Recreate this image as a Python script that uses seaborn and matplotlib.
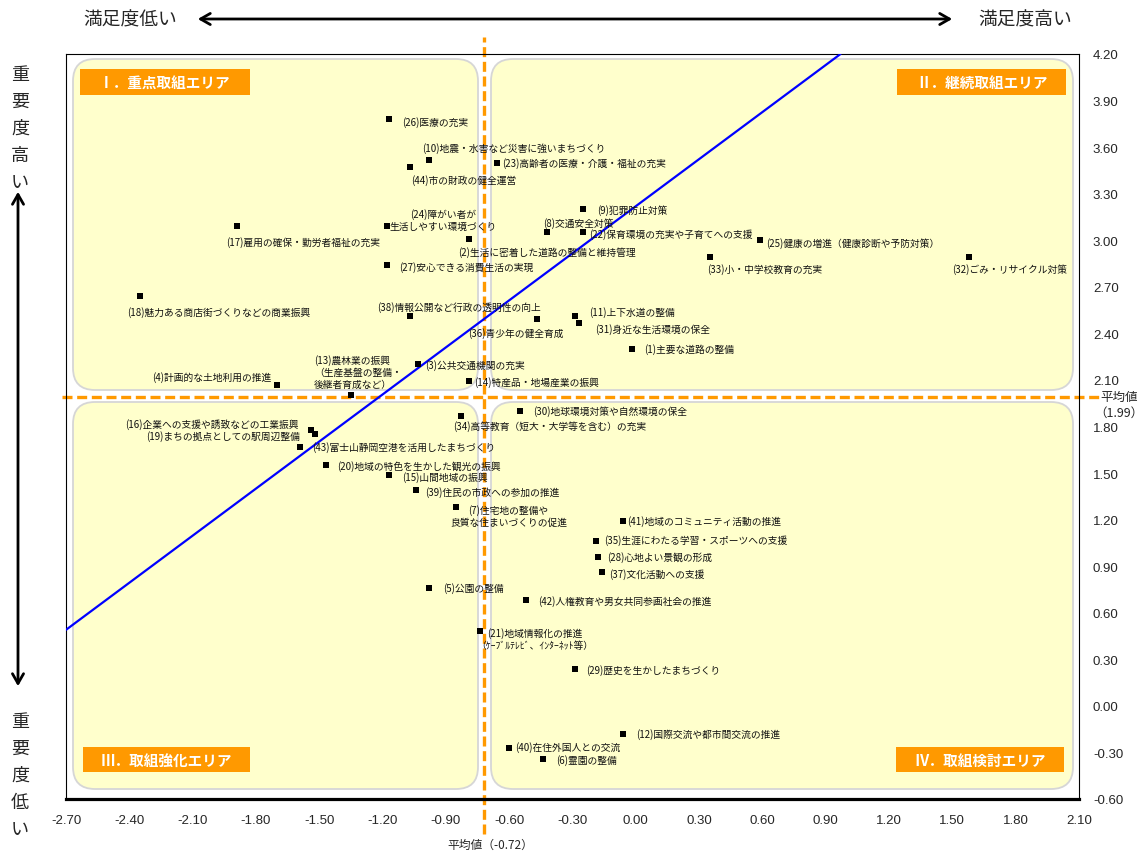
import numpy as np
import pandas as pd
import matplotlib.pyplot as plt
import seaborn as sns
from matplotlib.patches import FancyBboxPatch, Rectangle

#=========================================================
#----- Data --------
#=========================================================
item_no = list(range(1, 45))
item_name = [
    "主要な道路の整備",
    "生活に密着した道路の整備と維持管理",
    "公共交通機関の充実",
    "計画的な土地利用の推進",
    "公園の整備",
    "霊園の整備",
    "住宅地の整備や\n良質な住まいづくりの促進",
    "交通安全対策",
    "犯罪防止対策",
    "地震・水害など災害に強いまちづくり",
    "上下水道の整備",
    "国際交流や都市間交流の推進",
    "農林業の振興\n（生産基盤の整備・\n後継者育成など）",
    "特産品・地場産業の振興",
    "山間地域の振興",
    "企業への支援や誘致などの工業振興",
    "雇用の確保・勤労者福祉の充実",
    "魅力ある商店街づくりなどの商業振興",
    "まちの拠点としての駅周辺整備",
    "地域の特色を生かした観光の振興",
    "地域情報化の推進\n（ｹｰﾌﾞﾙﾃﾚﾋﾞ、ｲﾝﾀｰﾈｯﾄ等）",
    "保育環境の充実や子育てへの支援",
    "高齢者の医療・介護・福祉の充実",
    "障がい者が\n生活しやすい環境づくり",
    "健康の増進（健康診断や予防対策）",
    "医療の充実",
    "安心できる消費生活の実現",
    "心地よい景観の形成",
    "歴史を生かしたまちづくり",
    "地球環境対策や自然環境の保全",
    "身近な生活環境の保全",
    "ごみ・リサイクル対策",
    "小・中学校教育の充実",
    "高等教育（短大・大学等を含む）の充実",
    "生涯にわたる学習・スポーツへの支援",
    "青少年の健全育成",
    "文化活動への支援",
    "情報公開など行政の透明性の向上",
    "住民の市政への参加の推進",
    "在住外国人との交流",
    "地域のコミュニティ活動の推進",
    "人権教育や男女共同参画社会の推進",
    "富士山静岡空港を活用したまちづくり",
    "市の財政の健全運営",
]
# satisfaction (x) / importance (y)
satisfaction = [-0.02, -0.79, -1.03, -1.70, -0.98, -0.44, -0.85, -0.42, -0.25, -0.98,
                -0.29, -0.06, -1.35, -0.79, -1.17, -1.54, -1.89, -2.35, -1.52, -1.47,
                -0.74, -0.25, -0.66, -1.18, 0.59, -1.17, -1.18, -0.18, -0.29, -0.55,
                -0.27, 1.58, 0.35, -0.83, -0.19, -0.47, -0.16, -1.07, -1.04, -0.60,
                -0.06, -0.52, -1.59, -1.07]
importance = [2.30, 3.01, 2.20, 2.07, 0.76, -0.34, 1.28, 3.05, 3.20, 3.52,
              2.51, -0.18, 2.00, 2.09, 1.49, 1.78, 3.09, 2.64, 1.75, 1.55,
              0.48, 3.05, 3.50, 3.09, 3.00, 3.78, 2.84, 0.96, 0.24, 1.90,
              2.47, 2.89, 2.89, 1.87, 1.06, 2.49, 0.86, 2.51, 1.39, -0.27,
              1.19, 0.68, 1.67, 3.47]

mean_x = -0.72
mean_y = 1.99
trend_x = [-2.70, 0.97]
trend_y = [0.49, 4.20]

area_names = ["Ⅰ．重点取組エリア", "Ⅱ．継続取組エリア", "Ⅲ．取組強化エリア", "Ⅳ．取組検討エリア"]

df = pd.DataFrame({"no": item_no, "name": item_name,
                   "satisfaction": satisfaction, "importance": importance})

# label placement: (dx, dy) in pixels from the marker (dy downwards), alignment
label_pos = {
    1: (13, 0, "left"), 2: (-11, 13, "left"), 3: (7, 0, "left"), 4: (-6, -8, "right"),
    5: (14, 0, "left"), 6: (13, 1, "left"), 7: (52, 8, "center"), 8: (-4, -10, "left"),
    9: (14, 0, "left"), 10: (-7, -12, "left"), 11: (15, -5, "left"), 12: (13, 0, "left"),
    13: (-37, -24, "left"), 14: (5, 0, "left"), 15: (13, 2, "left"), 16: (-12, -6, "right"),
    17: (66, 15, "center"), 18: (-13, 15, "left"), 19: (-15, 1, "right"), 20: (12, 0, "left"),
    21: (55, 7, "center"), 22: (6, 1, "left"), 23: (6, 0, "left"), 24: (56, -7, "center"),
    25: (6, 2, "left"), 26: (13, 2, "left"), 27: (12, 1, "left"), 28: (9, 0, "left"),
    29: (12, 1, "left"), 30: (13, 0, "left"), 31: (16, 6, "left"), 32: (-17, 11, "left"),
    33: (-3, 11, "left"), 34: (-8, 10, "left"), 35: (8, -2, "left"), 36: (-68, 13, "left"),
    37: (7, 1, "left"), 38: (-33, -10, "left"), 39: (9, 1, "left"), 40: (6, -1, "left"),
    41: (4, -1, "left"), 42: (12, 0, "left"), 43: (12, 0, "left"), 44: (1, 12, "left"),
}

#=========================================================
#----- Figure setup --------
#=========================================================
sns.set_style("white")
plt.rcParams['font.family'] = ['Noto Sans CJK JP', 'DejaVu Sans']

W, H = 1145, 853
fig = plt.figure(figsize=(W / 100, H / 100), dpi=100)
ax = fig.add_axes([66 / W, 1 - 800 / H, (1079 - 66) / W, (800 - 55) / H])
ax.set_facecolor("white")

YELLOW = "#FFFFCC"
ORANGE = "#FF9900"


def fbox(x0, y0, x1, y1):
    # image pixel box -> figure fraction (left, bottom, width, height)
    return x0 / W, 1 - y1 / H, (x1 - x0) / W, (y1 - y0) / H


#---- quadrant backgrounds -----
quads = [(73, 60, 478, 391), (491, 60, 1073, 391), (73, 403, 478, 790), (491, 403, 1073, 790)]
for q in quads:
    l, b, w, h = fbox(*q)
    ax.add_patch(FancyBboxPatch((l, b), w, h,
                                boxstyle=f"round,pad=0,rounding_size={22 / W}",
                                mutation_aspect=W / H, transform=fig.transFigure,
                                facecolor=YELLOW, edgecolor="#D6D6D6", lw=1.3,
                                zorder=0.5, clip_on=False))

#---- area labels -----
area_boxes = [(80, 70, 250, 96), (897, 70, 1066, 96), (83, 748, 250, 773), (896, 748, 1064, 773)]
for name, bx in zip(area_names, area_boxes):
    l, b, w, h = fbox(*bx)
    ax.add_patch(Rectangle((l, b), w, h, transform=fig.transFigure,
                           facecolor=ORANGE, edgecolor="none", zorder=1, clip_on=False))
    ax.text(l + w / 2, b + h / 2, name, transform=fig.transFigure, ha="center", va="center",
            color="white", fontsize=10.5, fontweight="bold", zorder=2)

#---- mean lines -----
ax.axvline(mean_x, ymin=-0.047, ymax=1.023, color=ORANGE, lw=2.4,
           dashes=(3, 1.4), clip_on=False, zorder=2)
ax.axhline(mean_y, xmin=-0.004, xmax=1.021, color=ORANGE, lw=2.4,
           dashes=(3, 1.4), clip_on=False, zorder=2)

#---- trend line & points -----
sns.lineplot(x=trend_x, y=trend_y, color="#0000FF", lw=1.6, ax=ax, zorder=3)
sns.scatterplot(data=df, x="satisfaction", y="importance", marker="s", color="black",
                s=19, linewidth=0, ax=ax, zorder=4, legend=False)

for n, name, x, y in zip(df["no"], df["name"], df["satisfaction"], df["importance"]):
    dx, dy, ha = label_pos[n]
    ax.annotate(f"({n}){name}", xy=(x, y), xytext=(dx, -dy), textcoords="offset pixels",
                ha=ha, va="center", multialignment=ha, fontsize=7, linespacing=1.25,
                color="#111111", zorder=5)

#---- axes -----
ax.set_xlim(-2.7, 2.1)
ax.set_ylim(-0.6, 4.2)
xt = np.round(np.arange(-2.7, 2.101, 0.3), 2)
yt = np.round(np.arange(-0.6, 4.201, 0.3), 2)
ax.set_xticks(xt)
ax.set_xticklabels([f"{v + 0:.2f}" for v in xt])
ax.set_yticks(yt)
ax.set_yticklabels([f"{v + 0:.2f}" for v in yt])
ax.yaxis.tick_right()
ax.tick_params(axis="x", direction="in", length=4, width=1, color="black", pad=11,
               labelsize=9.5, labelfontfamily="Liberation Sans")
ax.tick_params(axis="y", length=0, pad=10, labelsize=9.5, labelfontfamily="Liberation Sans")
ax.set_xlabel("")
ax.set_ylabel("")
for side in ["left", "top", "right"]:
    ax.spines[side].set_visible(True)
    ax.spines[side].set_linewidth(0.8)
    ax.spines[side].set_color("black")
ax.spines["bottom"].set_linewidth(2.3)
ax.spines["bottom"].set_color("black")

#---- outer annotations -----
fig.text(1119 / W, 1 - 397 / H, "平均値", ha="center", va="center", fontsize=9)
fig.text(1119 / W, 1 - 413 / H, "（1.99）", ha="center", va="center", fontsize=9)
fig.text(490 / W, 1 - 845 / H, "平均値（-0.72）", ha="center", va="center", fontsize=8.5)

fig.text(83 / W, 1 - 20 / H, "満足度低い", ha="left", va="center", fontsize=13.5)
fig.text(1072 / W, 1 - 20 / H, "満足度高い", ha="right", va="center", fontsize=13.5)
ax.annotate("", xy=(955 / W, 1 - 20 / H), xytext=(195 / W, 1 - 20 / H),
            xycoords="figure fraction", textcoords="figure fraction",
            arrowprops=dict(arrowstyle="<->,head_length=0.7,head_width=0.4", lw=2, color="black"))

for i, ch in enumerate("重要度高い"):
    fig.text(20 / W, 1 - (75 + i * 27) / H, ch, ha="center", va="center", fontsize=13)
for i, ch in enumerate("重要度低い"):
    fig.text(20 / W, 1 - (722 + i * 27) / H, ch, ha="center", va="center", fontsize=13)
ax.annotate("", xy=(18 / W, 1 - 190 / H), xytext=(18 / W, 1 - 690 / H),
            xycoords="figure fraction", textcoords="figure fraction",
            arrowprops=dict(arrowstyle="<->,head_length=0.7,head_width=0.4", lw=2, color="black"))

fig.savefig("out.png", dpi=100)
